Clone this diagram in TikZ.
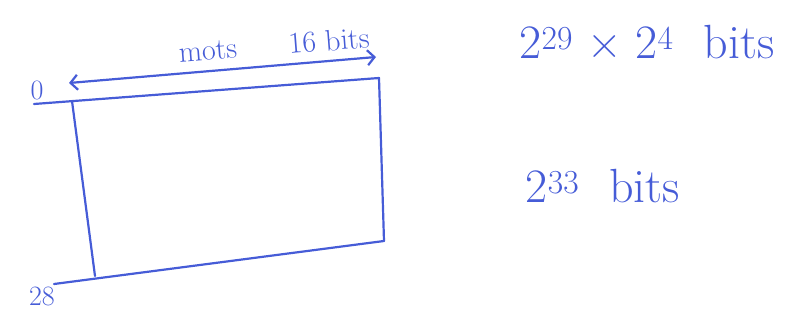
\documentclass[tikz,border=0pt]{standalone}
\usepackage{fontspec}
\usetikzlibrary{arrows.meta}
\definecolor{ink}{RGB}{70,92,215}
\begin{document}
\begin{tikzpicture}[x=1pt,y=-1pt,
  pen/.style={draw=ink,line width=2.2pt,line cap=round,line join=round},
  hand/.style={text=ink,inner sep=0pt},
  barb/.style={pen,{Straight Barb[length=7pt,width=15pt,line width=2.2pt]}-{Straight Barb[length=7pt,width=15pt,line width=2.2pt]}}]
\useasboundingbox (0,0) rectangle (801,326);
% rectangle (memory)
\coordinate (tl0) at (34,104);
\coordinate (tl) at (72,101);
\coordinate (tr) at (379,78);
\coordinate (br) at (384,241);
\coordinate (bl) at (95,276);
\coordinate (bl0) at (54,284);
\draw[pen] (tl0) -- (tr) -- (br);
\draw[pen] (tl) -- (bl);
\draw[pen] (bl0) -- (br);
% width arrow
\coordinate (al) at (69,83);
\coordinate (ar) at (376,57);
\draw[barb] (al) -- (ar);
% labels
\node[hand,rotate=4.5] (lab) at (274,45) {\fontsize{30}{34}\selectfont mots\hspace{52pt}16 bits};
\node[hand] (zero) at (37,90) {\fontsize{28}{32}\selectfont 0};
\node[hand] (last) at (42,296) {\fontsize{28}{32}\selectfont 28};
\node[hand] (prod) at (647,42) {\fontsize{48}{54}\selectfont 2\textsuperscript{29}\hspace{14pt}×\hspace{14pt}2\textsuperscript{4}\hspace{30pt}bits};
\node[hand] (tot) at (603,186) {\fontsize{48}{54}\selectfont 2\textsuperscript{33}\hspace{30pt}bits};
\end{tikzpicture}
\end{document}
